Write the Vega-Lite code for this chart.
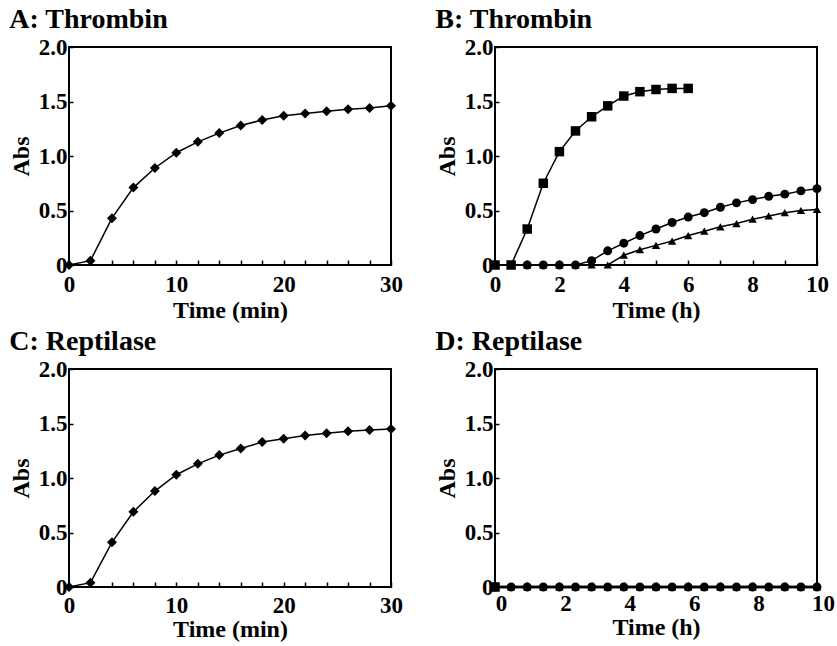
{
  "$schema": "https://vega.github.io/schema/vega-lite/v6.json",
  "padding": {"left": 8, "top": 5, "right": 5, "bottom": 0},
  "background": "white",
  "config": {
    "view": {"stroke": "black", "strokeWidth": 2},
    "axis": {
      "grid": false,
      "domain": false,
      "ticks": true,
      "tickOpacity": 1,
      "zindex": 1,
      "labelFont": "Liberation Serif",
      "labelFontWeight": "bold",
      "labelFontSize": 23,
      "labelColor": "black",
      "titleFont": "Liberation Serif",
      "titleFontWeight": "bold",
      "titleFontSize": 24,
      "titleColor": "black",
      "tickColor": "black",
      "tickWidth": 1.5
    },
    "axisX": {"offset": -5, "tickSize": 5, "labelPadding": 8, "labelFlush": false, "titlePadding": 2},
    "axisY": {"offset": -4, "tickSize": 4, "labelPadding": 2, "titlePadding": 5},
    "title": {"font": "Liberation Serif", "fontSize": 28, "fontWeight": "bold", "anchor": "start", "frame": "bounds", "color": "black", "offset": 2},
    "line": {"color": "black", "strokeWidth": 1.5},
    "point": {"color": "black", "filled": true, "opacity": 1}
  },
  "datasets": {
    "A": [
      {"t": 0, "abs": 0}, {"t": 2, "abs": 0.04}, {"t": 4, "abs": 0.43}, {"t": 6, "abs": 0.71},
      {"t": 8, "abs": 0.89}, {"t": 10, "abs": 1.03}, {"t": 12, "abs": 1.13}, {"t": 14, "abs": 1.21},
      {"t": 16, "abs": 1.28}, {"t": 18, "abs": 1.33}, {"t": 20, "abs": 1.37}, {"t": 22, "abs": 1.39},
      {"t": 24, "abs": 1.41}, {"t": 26, "abs": 1.43}, {"t": 28, "abs": 1.44}, {"t": 30, "abs": 1.46}
    ],
    "C": [
      {"t": 0, "abs": 0}, {"t": 2, "abs": 0.04}, {"t": 4, "abs": 0.41}, {"t": 6, "abs": 0.69},
      {"t": 8, "abs": 0.88}, {"t": 10, "abs": 1.03}, {"t": 12, "abs": 1.13}, {"t": 14, "abs": 1.21},
      {"t": 16, "abs": 1.27}, {"t": 18, "abs": 1.33}, {"t": 20, "abs": 1.36}, {"t": 22, "abs": 1.39},
      {"t": 24, "abs": 1.41}, {"t": 26, "abs": 1.43}, {"t": 28, "abs": 1.44}, {"t": 30, "abs": 1.45}
    ],
    "B": [
      {"t": 0, "abs": 0, "s": "sq"}, {"t": 0.5, "abs": 0, "s": "sq"}, {"t": 1, "abs": 0.33, "s": "sq"},
      {"t": 1.5, "abs": 0.75, "s": "sq"}, {"t": 2, "abs": 1.04, "s": "sq"}, {"t": 2.5, "abs": 1.23, "s": "sq"},
      {"t": 3, "abs": 1.36, "s": "sq"}, {"t": 3.5, "abs": 1.46, "s": "sq"}, {"t": 4, "abs": 1.55, "s": "sq"},
      {"t": 4.5, "abs": 1.59, "s": "sq"}, {"t": 5, "abs": 1.61, "s": "sq"}, {"t": 5.5, "abs": 1.62, "s": "sq"},
      {"t": 6, "abs": 1.62, "s": "sq"},
      {"t": 1, "abs": 0, "s": "ci"}, {"t": 1.5, "abs": 0, "s": "ci"}, {"t": 2, "abs": 0, "s": "ci"},
      {"t": 2.5, "abs": 0, "s": "ci"}, {"t": 3, "abs": 0.04, "s": "ci"}, {"t": 3.5, "abs": 0.13, "s": "ci"},
      {"t": 4, "abs": 0.2, "s": "ci"}, {"t": 4.5, "abs": 0.27, "s": "ci"}, {"t": 5, "abs": 0.33, "s": "ci"},
      {"t": 5.5, "abs": 0.39, "s": "ci"}, {"t": 6, "abs": 0.44, "s": "ci"}, {"t": 6.5, "abs": 0.48, "s": "ci"},
      {"t": 7, "abs": 0.53, "s": "ci"}, {"t": 7.5, "abs": 0.57, "s": "ci"}, {"t": 8, "abs": 0.6, "s": "ci"},
      {"t": 8.5, "abs": 0.63, "s": "ci"}, {"t": 9, "abs": 0.65, "s": "ci"}, {"t": 9.5, "abs": 0.68, "s": "ci"},
      {"t": 10, "abs": 0.7, "s": "ci"},
      {"t": 1, "abs": 0, "s": "tr"}, {"t": 1.5, "abs": 0, "s": "tr"}, {"t": 2, "abs": 0, "s": "tr"},
      {"t": 2.5, "abs": 0, "s": "tr"}, {"t": 3, "abs": 0, "s": "tr"}, {"t": 3.5, "abs": 0, "s": "tr"},
      {"t": 4, "abs": 0.09, "s": "tr"}, {"t": 4.5, "abs": 0.14, "s": "tr"}, {"t": 5, "abs": 0.18, "s": "tr"},
      {"t": 5.5, "abs": 0.22, "s": "tr"}, {"t": 6, "abs": 0.27, "s": "tr"}, {"t": 6.5, "abs": 0.31, "s": "tr"},
      {"t": 7, "abs": 0.35, "s": "tr"}, {"t": 7.5, "abs": 0.38, "s": "tr"}, {"t": 8, "abs": 0.42, "s": "tr"},
      {"t": 8.5, "abs": 0.45, "s": "tr"}, {"t": 9, "abs": 0.48, "s": "tr"}, {"t": 9.5, "abs": 0.5, "s": "tr"},
      {"t": 10, "abs": 0.51, "s": "tr"}
    ],
    "D": [
      {"t": 0, "abs": 0, "s": "sq"},
      {"t": 0, "abs": 0, "s": "ci"}, {"t": 0.5, "abs": 0, "s": "ci"}, {"t": 1, "abs": 0, "s": "ci"},
      {"t": 1.5, "abs": 0, "s": "ci"}, {"t": 2, "abs": 0, "s": "ci"}, {"t": 2.5, "abs": 0, "s": "ci"},
      {"t": 3, "abs": 0, "s": "ci"}, {"t": 3.5, "abs": 0, "s": "ci"}, {"t": 4, "abs": 0, "s": "ci"},
      {"t": 4.5, "abs": 0, "s": "ci"}, {"t": 5, "abs": 0, "s": "ci"}, {"t": 5.5, "abs": 0, "s": "ci"},
      {"t": 6, "abs": 0, "s": "ci"}, {"t": 6.5, "abs": 0, "s": "ci"}, {"t": 7, "abs": 0, "s": "ci"},
      {"t": 7.5, "abs": 0, "s": "ci"}, {"t": 8, "abs": 0, "s": "ci"}, {"t": 8.5, "abs": 0, "s": "ci"},
      {"t": 9, "abs": 0, "s": "ci"}, {"t": 9.5, "abs": 0, "s": "ci"}, {"t": 10, "abs": 0, "s": "ci"},
      {"t": 0, "abs": 0, "s": "tr"}, {"t": 0.5, "abs": 0, "s": "tr"}, {"t": 1, "abs": 0, "s": "tr"},
      {"t": 1.5, "abs": 0, "s": "tr"}, {"t": 2, "abs": 0, "s": "tr"}, {"t": 2.5, "abs": 0, "s": "tr"},
      {"t": 3, "abs": 0, "s": "tr"}, {"t": 3.5, "abs": 0, "s": "tr"}, {"t": 4, "abs": 0, "s": "tr"},
      {"t": 4.5, "abs": 0, "s": "tr"}, {"t": 5, "abs": 0, "s": "tr"}, {"t": 5.5, "abs": 0, "s": "tr"},
      {"t": 6, "abs": 0, "s": "tr"}, {"t": 6.5, "abs": 0, "s": "tr"}, {"t": 7, "abs": 0, "s": "tr"},
      {"t": 7.5, "abs": 0, "s": "tr"}, {"t": 8, "abs": 0, "s": "tr"}, {"t": 8.5, "abs": 0, "s": "tr"},
      {"t": 9, "abs": 0, "s": "tr"}, {"t": 9.5, "abs": 0, "s": "tr"}, {"t": 10, "abs": 0, "s": "tr"}
    ]
  },
  "spacing": 4,
  "vconcat": [
    {
      "spacing": 30,
      "hconcat": [
        {
          "title": "A: Thrombin",
          "width": 322, "height": 218,
          "data": {"name": "A"},
          "encoding": {
            "x": {"field": "t", "type": "quantitative", "scale": {"domain": [0, 30], "nice": false},
                  "axis": {"title": "Time (min)", "values": [0, 2, 4, 6, 8, 10, 12, 14, 16, 18, 20, 22, 24, 26, 28, 30],
                           "labelExpr": "datum.value % 10 == 0 ? datum.label : ''"}},
            "y": {"field": "abs", "type": "quantitative", "scale": {"domain": [0, 2], "nice": false},
                  "axis": {"title": "Abs", "values": [0, 0.5, 1, 1.5, 2],
                           "labelExpr": "datum.value == 0 ? '0' : format(datum.value, '.1f')"}}
          },
          "layer": [
            {"mark": {"type": "line"}},
            {"mark": {"type": "point", "shape": "diamond", "size": 100}}
          ]
        },
        {
          "title": "B: Thrombin",
          "width": 322, "height": 218,
          "data": {"name": "B"},
          "encoding": {
            "x": {"field": "t", "type": "quantitative", "scale": {"domain": [0, 10], "nice": false},
                  "axis": {"title": "Time (h)", "values": [0, 1, 2, 3, 4, 5, 6, 7, 8, 9, 10],
                           "labelExpr": "datum.value % 2 == 0 ? datum.label : ''"}},
            "y": {"field": "abs", "type": "quantitative", "scale": {"domain": [0, 2], "nice": false},
                  "axis": {"title": "Abs", "values": [0, 0.5, 1, 1.5, 2],
                           "labelExpr": "datum.value == 0 ? '0' : format(datum.value, '.1f')"}}
          },
          "layer": [
            {"mark": {"type": "line"}, "encoding": {"detail": {"field": "s"}}},
            {"mark": {"type": "point"},
             "encoding": {
               "shape": {"field": "s", "scale": {"domain": ["sq", "ci", "tr"], "range": ["square", "circle", "triangle-up"]}, "legend": null},
               "size": {"field": "s", "scale": {"domain": ["sq", "ci", "tr"], "range": [90, 70, 80]}, "legend": null}
             }}
          ]
        }
      ]
    },
    {
      "spacing": 30,
      "hconcat": [
        {
          "title": "C: Reptilase",
          "width": 322, "height": 218,
          "data": {"name": "C"},
          "encoding": {
            "x": {"field": "t", "type": "quantitative", "scale": {"domain": [0, 30], "nice": false},
                  "axis": {"title": "Time (min)", "values": [0, 2, 4, 6, 8, 10, 12, 14, 16, 18, 20, 22, 24, 26, 28, 30],
                           "labelPadding": 7, "titlePadding": 0,
                           "labelExpr": "datum.value % 10 == 0 ? datum.label : ''"}},
            "y": {"field": "abs", "type": "quantitative", "scale": {"domain": [0, 2], "nice": false},
                  "axis": {"title": "Abs", "values": [0, 0.5, 1, 1.5, 2],
                           "labelExpr": "datum.value == 0 ? '0' : format(datum.value, '.1f')"}}
          },
          "layer": [
            {"mark": {"type": "line"}},
            {"mark": {"type": "point", "shape": "diamond", "size": 100}}
          ]
        },
        {
          "title": "D: Reptilase",
          "width": 322, "height": 218,
          "data": {"name": "D"},
          "encoding": {
            "x": {"field": "t", "type": "quantitative", "scale": {"domain": [0, 10], "nice": false},
                  "axis": {"title": "Time (h)", "values": [0, 1, 2, 3, 4, 5, 6, 7, 8, 9, 10], "labelOffset": 6,
                           "labelPadding": 5, "titlePadding": 0,
                           "labelExpr": "datum.value % 2 == 0 ? datum.label : ''"}},
            "y": {"field": "abs", "type": "quantitative", "scale": {"domain": [0, 2], "nice": false},
                  "axis": {"title": "Abs", "values": [0, 0.5, 1, 1.5, 2],
                           "labelExpr": "datum.value == 0 ? '0' : format(datum.value, '.1f')"}}
          },
          "layer": [
            {"mark": {"type": "line", "strokeWidth": 2.5}, "encoding": {"detail": {"field": "s"}}},
            {"mark": {"type": "point"},
             "encoding": {
               "shape": {"field": "s", "scale": {"domain": ["sq", "ci", "tr"], "range": ["square", "circle", "triangle-up"]}, "legend": null},
               "size": {"field": "s", "scale": {"domain": ["sq", "ci", "tr"], "range": [90, 60, 60]}, "legend": null}
             }}
          ]
        }
      ]
    }
  ]
}
